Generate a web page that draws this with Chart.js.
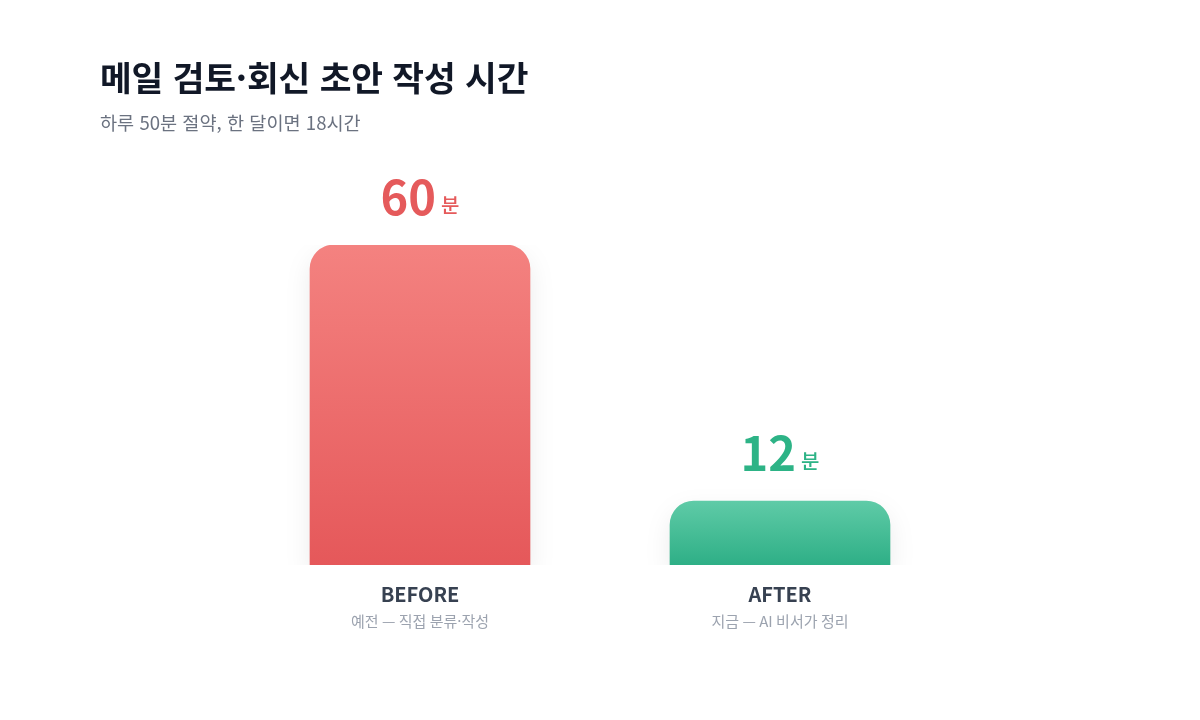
<!DOCTYPE html>
<html lang="ko">
<head>
<meta charset="utf-8">
<script src="https://cdn.jsdelivr.net/npm/chart.js@4/dist/chart.umd.min.js"></script>
<style>
  html, body { margin: 0; padding: 0; background: #ffffff; }
  body { width: 1200px; height: 720px; position: relative; overflow: hidden;
         font-family: "Noto Sans CJK KR", "Noto Sans", sans-serif; }
  h1 { position: absolute; left: 100px; top: 51px; margin: 0; font-size: 34.5px;
       font-weight: 700; color: #111827; letter-spacing: -0.15px; }
  p.sub { position: absolute; left: 100px; top: 108px; margin: 0; font-size: 18.6px;
          color: #6b7280; }
  #wrap { position: absolute; left: 0; top: 0; width: 1200px; height: 720px; }
</style>
</head>
<body>
<div id="wrap"><canvas id="chart" width="1200" height="720"></canvas></div>
<h1>메일 검토·회신 초안 작성 시간</h1>
<p class="sub">하루 50분 절약, 한 달이면 18시간</p>
<script>
const CATEGORIAS = ['BEFORE', 'AFTER']
const DESCRICOES = ['예전 — 직접 분류·작성', '지금 — AI 비서가 정리']
const MINUTOS = [60, 12]
const UNIDADE = '분'

const CORES_TOPO = ['#f48280', '#5fcba7']
const CORES_BASE = ['#e5585a', '#2eaf86']
const CORES_TEXTO = ['#e55a5b', '#2db386']
const FONTE = '"Noto Sans CJK KR", "Noto Sans", sans-serif'

function gradiente(context) {
    let chart = context.chart
    let i = context.dataIndex
    if (!chart.chartArea) return CORES_BASE[i]
    let y = chart.scales.y
    let topo = y.getPixelForValue(MINUTOS[i])
    let base = y.getPixelForValue(0)
    let g = chart.ctx.createLinearGradient(0, topo, 0, base)
    g.addColorStop(0, CORES_TOPO[i])
    g.addColorStop(1, CORES_BASE[i])
    return g
}

// sombra suave por baixo das barras
const sombra = {
    id: 'sombra',
    beforeDatasetDraw(chart) {
        let ctx = chart.ctx
        ctx.save()
        ctx.shadowColor = 'rgba(0, 0, 0, 0.08)'
        ctx.shadowBlur = 24
        ctx.shadowOffsetY = 10
    },
    afterDatasetDraw(chart) {
        chart.ctx.restore()
    }
}

// valores em cima e rótulos em baixo
const rotulos = {
    id: 'rotulos',
    afterDatasetsDraw(chart) {
        let ctx = chart.ctx
        let meta = chart.getDatasetMeta(0)
        meta.data.forEach((bar, i) => {
            let x = bar.x
            let num = String(MINUTOS[i])
            ctx.save()
            ctx.textBaseline = 'alphabetic'
            ctx.font = '700 47px ' + FONTE
            let wNum = ctx.measureText(num).width
            ctx.font = '500 20px ' + FONTE
            let wUni = ctx.measureText(UNIDADE).width
            let gap = 5
            let inicio = x - (wNum + gap + wUni) / 2
            let yBase = bar.y - 30
            ctx.fillStyle = CORES_TEXTO[i]
            ctx.textAlign = 'left'
            ctx.font = '700 47px ' + FONTE
            ctx.fillText(num, inicio, yBase)
            ctx.font = '500 20px ' + FONTE
            ctx.fillText(UNIDADE, inicio + wNum + gap, yBase - 2)

            let fundo = chart.scales.y.getPixelForValue(0)
            ctx.textAlign = 'center'
            ctx.fillStyle = '#374151'
            ctx.font = '600 20px ' + FONTE
            ctx.fillText(CATEGORIAS[i], x, fundo + 37)
            ctx.fillStyle = '#9ca3af'
            ctx.font = '400 15px ' + FONTE
            ctx.fillText(DESCRICOES[i], x, fundo + 62)
            ctx.restore()
        })
    }
}

var ctx = document.getElementById('chart').getContext('2d')
var grafico = new Chart(ctx, {
    type: 'bar',
    data: {
        labels: CATEGORIAS,
        datasets: [{
            data: MINUTOS,
            backgroundColor: gradiente,
            borderRadius: 24,
            borderSkipped: 'start',
            barThickness: 220
        }]
    },
    options: {
        responsive: false,
        animation: false,
        layout: { padding: { left: 240, right: 240, top: 245, bottom: 155 } },
        plugins: {
            legend: { display: false },
            tooltip: { enabled: false },
            title: { display: false }
        },
        scales: {
            x: { display: false, grid: { display: false } },
            y: { display: false, min: 0, max: 60, grid: { display: false } }
        }
    },
    plugins: [sombra, rotulos]
})
</script>
</body>
</html>
